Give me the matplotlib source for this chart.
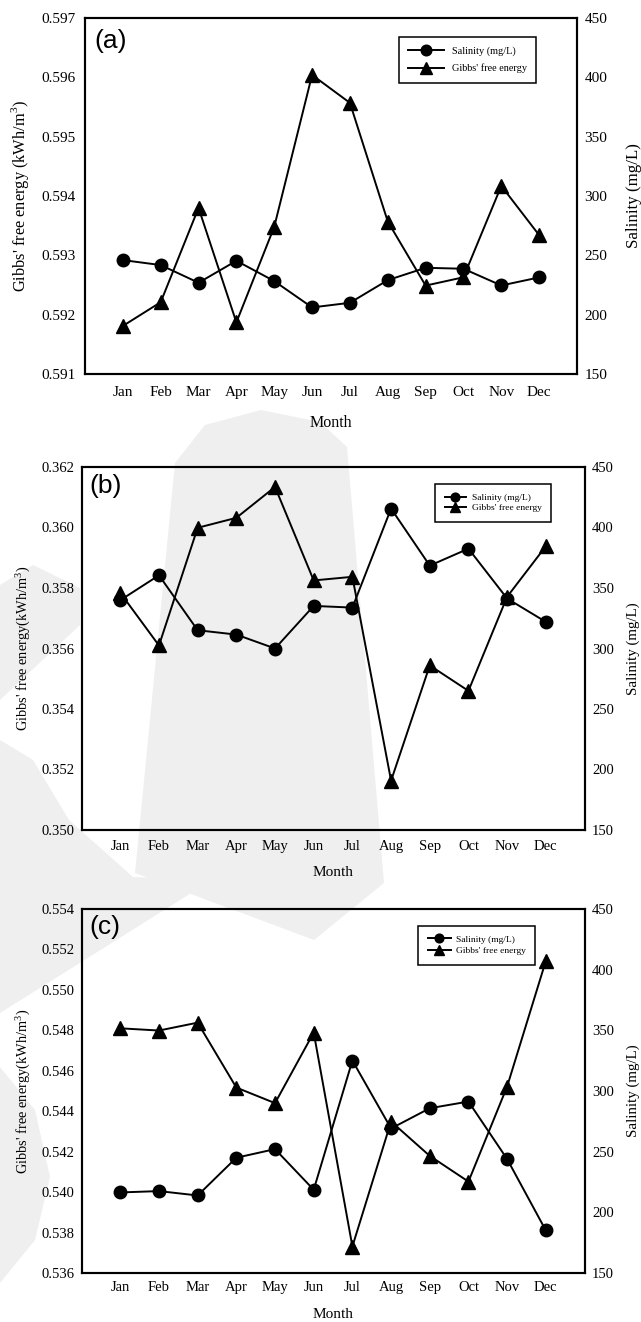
import matplotlib
matplotlib.use("Agg")
from matplotlib import pyplot as plt
from matplotlib.patches import Polygon
import numpy as np

months = ['Jan', 'Feb', 'Mar', 'Apr', 'May', 'Jun', 'Jul', 'Aug', 'Sep', 'Oct', 'Nov', 'Dec']

# (a)
gibbs_a = [0.59181, 0.59221, 0.59380, 0.59187, 0.59348, 0.59604,
           0.59557, 0.59357, 0.59249, 0.59263, 0.59417, 0.59334]
salinity_a = [246.0, 241.8, 226.9, 245.4, 228.3, 206.1,
              210.0, 229.1, 239.5, 238.7, 224.6, 231.4]

# (b)
gibbs_b = [0.35784, 0.35610, 0.35999, 0.36032, 0.36134, 0.35825,
           0.35837, 0.35163, 0.35544, 0.35460, 0.35771, 0.35938]
salinity_b = [339.9, 360.5, 315.1, 311.5, 300.0, 335.2,
              333.8, 415.6, 368.5, 382.5, 341.3, 322.0]

# (c)
gibbs_c = [0.54810, 0.54799, 0.54838, 0.54517, 0.54440, 0.54789,
           0.53731, 0.54349, 0.54179, 0.54052, 0.54522, 0.55143]
salinity_c = [216.4, 217.5, 213.9, 245.0, 252.1, 218.6,
              325.1, 269.1, 285.8, 291.3, 243.9, 185.1]

gibbs_ticks_a = [0.591, 0.592, 0.593, 0.594, 0.595, 0.596, 0.597]
gibbs_ticks_b = [0.350, 0.352, 0.354, 0.356, 0.358, 0.360, 0.362]
gibbs_ticks_c = [0.536, 0.538, 0.540, 0.542, 0.544, 0.546, 0.548, 0.550, 0.552, 0.554]
salinity_ticks = [150, 200, 250, 300, 350, 400, 450]

W, H = 641, 1322
plt.rcParams['font.family'] = ['Liberation Serif', 'DejaVu Serif']
plt.rcParams['mathtext.fontset'] = 'custom'
plt.rcParams['mathtext.rm'] = 'Liberation Serif'

fig = plt.figure(figsize=(W / 100, H / 100), dpi=100)


def fx(px):
    return px / W


def fy(py):
    return 1 - py / H


def fbox(x0, y0, x1, y1):
    # pixel box -> figure fraction [left, bottom, width, height]
    return [x0 / W, 1 - y1 / H, (x1 - x0) / W, (y1 - y0) / H]


# faint watermark in the background
wm_shapes = [
    [(175, 463), (205, 425), (261, 410), (320, 422), (347, 447), (384, 883), (314, 940), (135, 873)],
    [(0, 585), (33, 565), (80, 588), (80, 625), (0, 700)],
    [(0, 740), (33, 760), (69, 820), (133, 877), (212, 880), (0, 1013)],
    [(0, 1067), (35, 1110), (50, 1177), (35, 1240), (0, 1283)],
]
for shp in wm_shapes:
    fig.patches.append(Polygon([(fx(a), fy(b)) for a, b in shp], closed=True,
                               transform=fig.transFigure, facecolor='#efefef',
                               edgecolor='none', zorder=-10))

panels = [
    dict(box=(85, 18, 577, 374), g=gibbs_a, s=salinity_a, gt=gibbs_ticks_a, tag='(a)',
         ylab="Gibbs' free energy (kWh/m$^3$)", labfs=11.8, tickfs=11, ylx=19.6, ry=634,
         monthy=423, lpad=6.5, xpad=8.5, tagx=94, tagy=29,
         leg=(398.8, 37.3), legfs=7.4, legsp=0.74, bpad=0.9, hl=3.5, htp=0.8, ms=0.85),
    dict(box=(81.6, 467, 584.5, 830), g=gibbs_b, s=salinity_b, gt=gibbs_ticks_b, tag='(b)',
         ylab="Gibbs' free energy(kWh/m$^3$)", labfs=10.4, tickfs=10.5, ylx=22.4, ry=633,
         monthy=873, lpad=5, xpad=7, tagx=89, tagy=474,
         leg=(435.1, 484), legfs=6.8, legsp=0.18, bpad=1.0, hl=2.25, htp=0.65, ms=0.7),
    dict(box=(81.6, 909, 584.5, 1273), g=gibbs_c, s=salinity_c, gt=gibbs_ticks_c, tag='(c)',
         ylab="Gibbs' free energy(kWh/m$^3$)", labfs=10.4, tickfs=10.5, ylx=22.4, ry=633,
         monthy=1314, lpad=5, xpad=6, tagx=89, tagy=915,
         leg=(418.4, 925.7), legfs=6.8, legsp=0.32, bpad=1.0, hl=2.4, htp=0.56, ms=0.7),
]

x = np.arange(1, 13)
for p in panels:
    x0, y0, x1, y1 = p['box']
    ax = fig.add_axes(fbox(x0, y0, x1, y1))
    ax.set_facecolor('none')
    ax2 = ax.twinx()
    l2, = ax2.plot(x, p['s'], color='black', lw=1.4, marker='o', ms=9, label='Salinity (mg/L)')
    l1, = ax.plot(x, p['g'], color='black', lw=1.4, marker='^', ms=9.5, label="Gibbs' free energy")
    ax.set_xlim(0, 13)
    ax.set_xticks(x)
    ax.set_xticklabels(months)
    ax.set_ylim(p['gt'][0], p['gt'][-1])
    ax.set_yticks(p['gt'])
    ax.set_yticklabels(['%.3f' % v for v in p['gt']])
    ax2.set_ylim(150, 450)
    ax2.set_yticks(salinity_ticks)
    ax.tick_params(axis='both', length=0, labelsize=p['tickfs'])
    ax.tick_params(axis='y', pad=p['lpad'])
    ax.tick_params(axis='x', pad=p['xpad'])
    ax2.tick_params(axis='y', length=0, labelsize=p['tickfs'], pad=5.5)
    for a in (ax, ax2):
        for sp in a.spines.values():
            sp.set_linewidth(1.5)

    cx = (x0 + x1) / 2
    cy = (y0 + y1) / 2
    fig.text(fx(cx), fy(p['monthy']), 'Month', fontsize=p['tickfs'] + 0.5,
             ha='center', va='center')
    fig.text(fx(p['ylx']), fy(cy), p['ylab'], fontsize=p['labfs'], rotation=90,
             ha='center', va='center')
    fig.text(fx(p['ry']), fy(cy), 'Salinity (mg/L)', fontsize=p['labfs'] + 0.4, rotation=90,
             ha='center', va='center')
    fig.text(fx(p['tagx']), fy(p['tagy']), p['tag'], fontsize=19,
             family='Liberation Sans', ha='left', va='top')

    lx, ly = p['leg']
    bx = (lx - x0) / (x1 - x0)
    by = (y1 - ly) / (y1 - y0)
    leg = ax2.legend([l2, l1], ['Salinity (mg/L)', "Gibbs' free energy"],
                     loc='upper left', bbox_to_anchor=(bx, by), fontsize=p['legfs'],
                     fancybox=False, framealpha=1, edgecolor='black',
                     handlelength=p['hl'], handletextpad=p['htp'], borderpad=p['bpad'],
                     labelspacing=p['legsp'], markerscale=p['ms'], borderaxespad=0)
    leg.get_frame().set_linewidth(1.1)

fig.savefig('out.png', dpi=100)
